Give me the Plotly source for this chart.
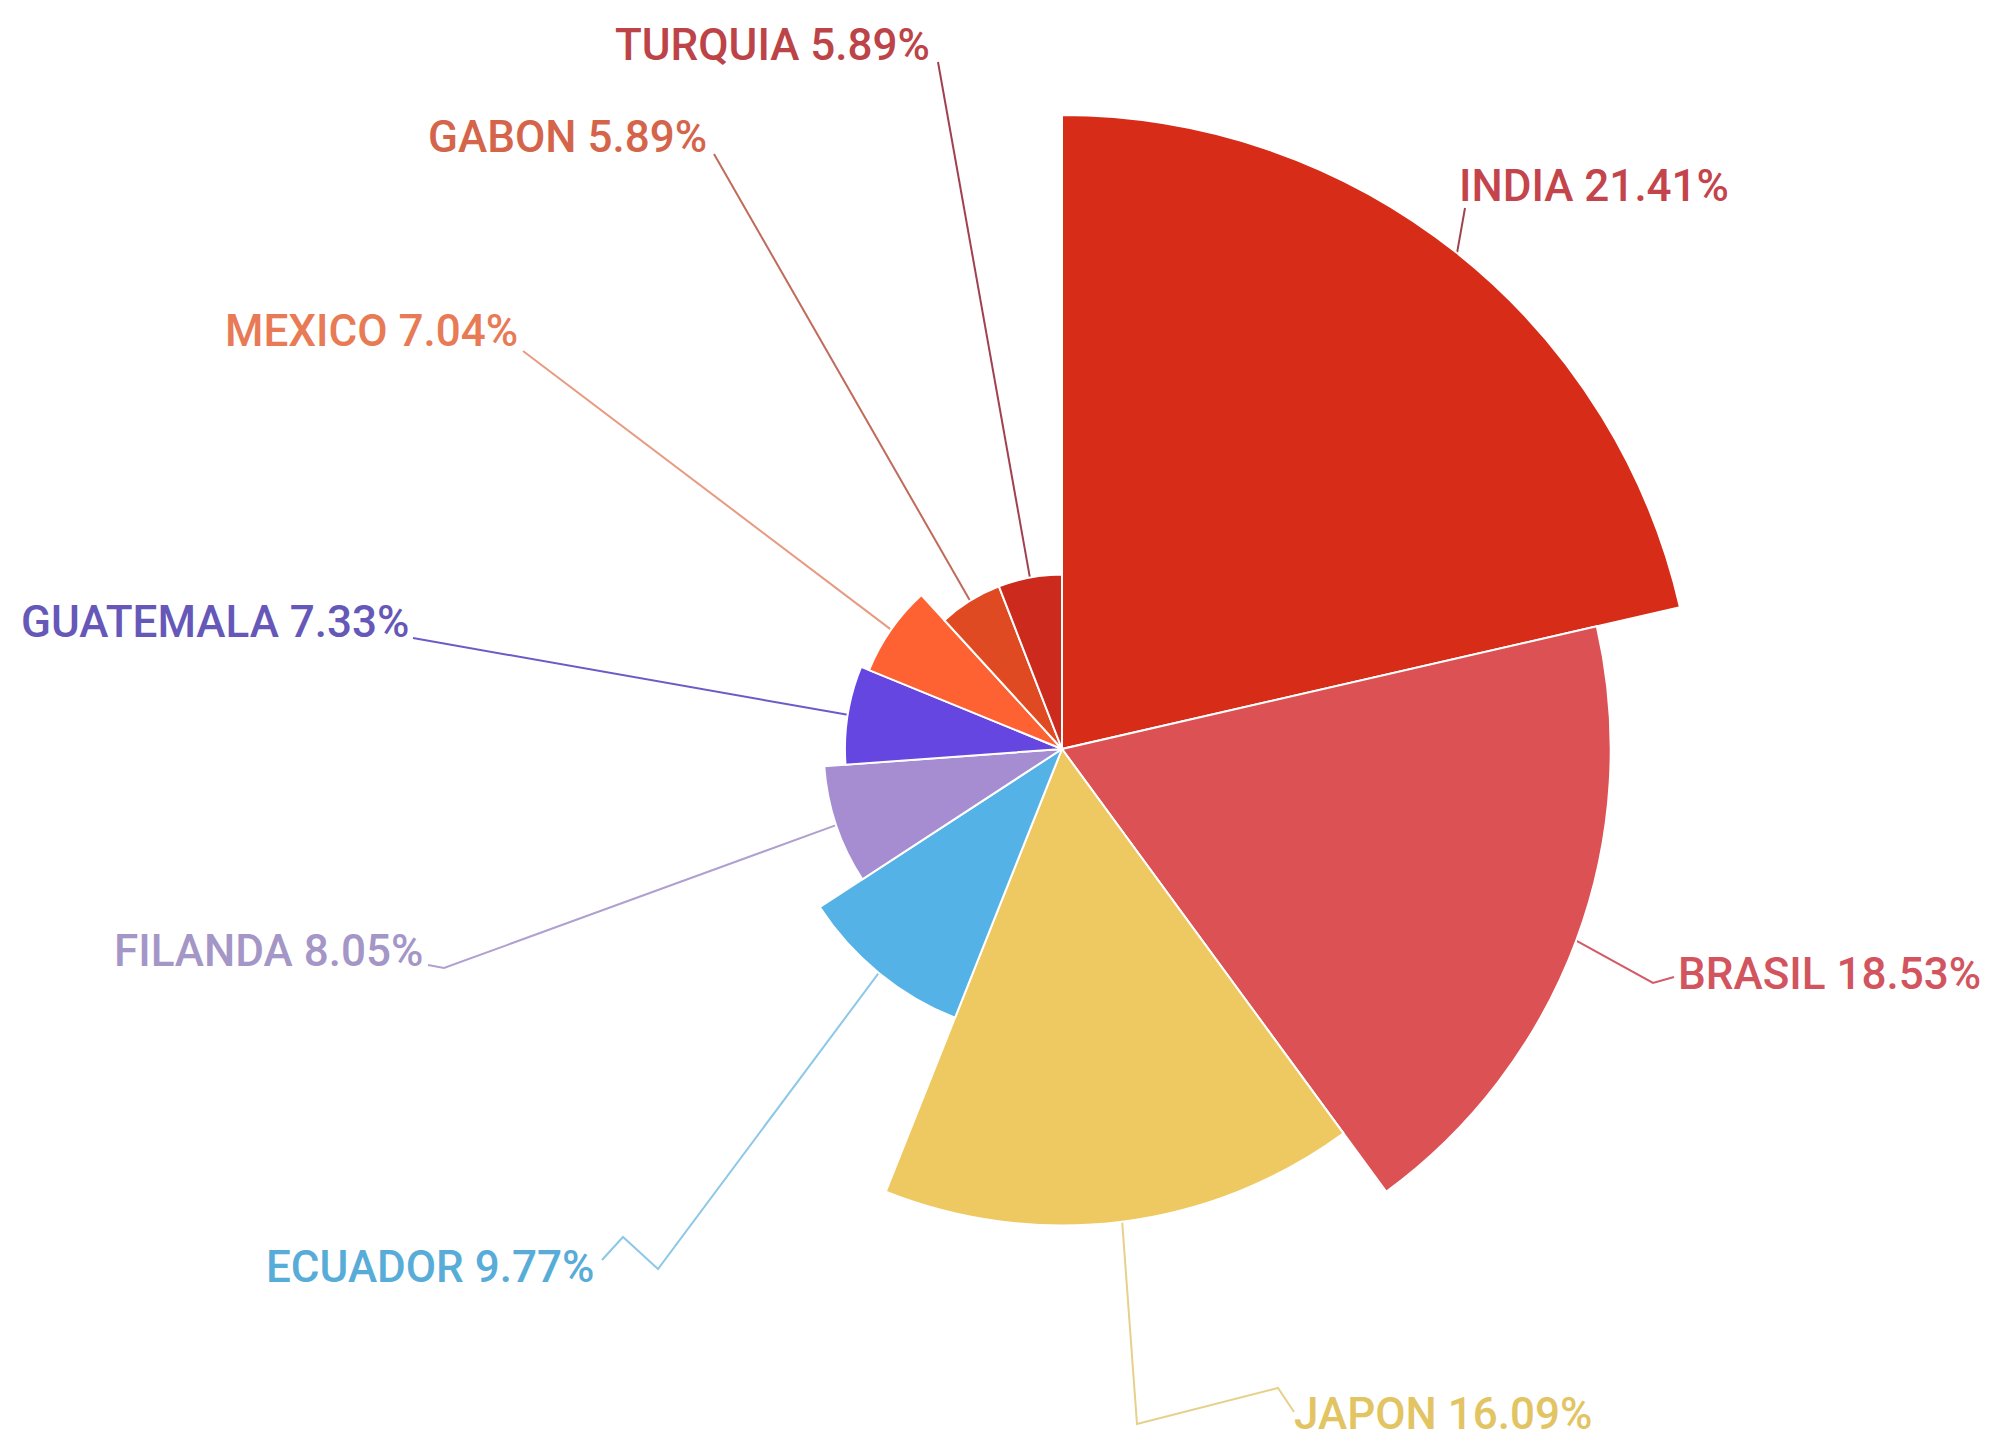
import math
import plotly.graph_objects as go

# ---- data ----
countries = ["INDIA", "BRASIL", "JAPON", "ECUADOR", "FILANDA",
             "GUATEMALA", "MEXICO", "GABON", "TURQUIA"]
shares = [21.41, 18.53, 16.09, 9.77, 8.05, 7.33, 7.04, 5.89, 5.89]

# ---- styles ----
slice_colors = ["#d62c18", "#dc5254", "#eec860", "#55b2e6", "#a68cd0",
                "#6546e0", "#ff6232", "#e04a22", "#cc2a1c"]
label_colors = ["#c4444c", "#d2545e", "#e2c462", "#58acd8", "#a496c6",
                "#6658b8", "#e87a56", "#d4654a", "#bc4448"]
line_colors = ["#a0444c", "#d25a66", "#e6d08a", "#8cc8e8", "#b0a0d0",
               "#6a5cc8", "#e89a80", "#c06a5a", "#a04050"]

W, H = 1990, 1439
CX, CY = 1054, 741          # pixel centre of the rose
R_MAX_PX = 634              # pixel radius of the largest slice
POLAR_R = 698               # pixel radius of the polar domain
FONT = "Roboto"
FONT_SIZE = 44

# label positions (pixels, label side of the leader line) and anchors
label_pos = [(1449, 178, "left"), (1668, 966, "left"), (1284, 1406, "left"),
             (588, 1259, "right"), (417, 943, "right"), (403, 614, "right"),
             (512, 323, "right"), (701, 129, "right"), (924, 37, "right")]
leader_bends = [
    [(1457, 200)],
    [(1645, 975), (1666, 969)],
    [(1129, 1416), (1270, 1380), (1286, 1404)],
    [(650, 1261), (615, 1229), (594, 1252)],
    [(436, 960), (420, 957)],
    [(405, 630)],
    [(515, 343)],
    [(706, 146)],
    [(930, 54)],
]

total = sum(shares)
widths = [v / total * 360.0 for v in shares]
thetas = []
acc = 0.0
for w in widths:
    thetas.append(acc + w / 2.0)
    acc += w

radial_max = max(shares) * POLAR_R / R_MAX_PX
px_per_unit = R_MAX_PX / max(shares)

fig = go.Figure()

fig.add_trace(go.Barpolar(
    r=shares, theta=thetas, width=widths,
    marker=dict(color=slice_colors, line=dict(color="white", width=2)),
    text=countries, hovertemplate="%{text}: %{r}%<extra></extra>",
))

# leader lines: start at outer edge of each slice at its mid angle
for i, (v, th) in enumerate(zip(shares, thetas)):
    rad = math.radians(th)
    sx = CX + v * px_per_unit * math.sin(rad)
    sy = CY - v * px_per_unit * math.cos(rad)
    xs = [sx] + [p[0] for p in leader_bends[i]]
    ys = [sy] + [p[1] for p in leader_bends[i]]
    fig.add_trace(go.Scatter(x=xs, y=ys, mode="lines",
                             line=dict(color=line_colors[i], width=2),
                             hoverinfo="skip", showlegend=False))

annotations = []
for i, name in enumerate(countries):
    x, y, anc = label_pos[i]
    annotations.append(dict(
        x=x, y=y, xref="x", yref="y", xanchor=anc, yanchor="middle",
        text=f"{name} {shares[i]:.2f}%", showarrow=False,
        font=dict(family=FONT, size=FONT_SIZE, color=label_colors[i], weight=500),
    ))

fig.update_layout(
    width=W, height=H,
    margin=dict(l=0, r=0, t=0, b=0),
    paper_bgcolor="white", plot_bgcolor="rgba(0,0,0,0)",
    showlegend=False,
    polar=dict(
        domain=dict(x=[(CX - POLAR_R) / W, (CX + POLAR_R) / W],
                    y=[(H - CY - POLAR_R) / H, (H - CY + POLAR_R) / H]),
        bgcolor="rgba(0,0,0,0)",
        radialaxis=dict(range=[0, radial_max], visible=False),
        angularaxis=dict(rotation=90, direction="clockwise", visible=False),
    ),
    xaxis=dict(range=[0, W], visible=False, domain=[0, 1], fixedrange=True),
    yaxis=dict(range=[H, 0], visible=False, domain=[0, 1], fixedrange=True),
    annotations=annotations,
)

fig.write_html("out.html")
